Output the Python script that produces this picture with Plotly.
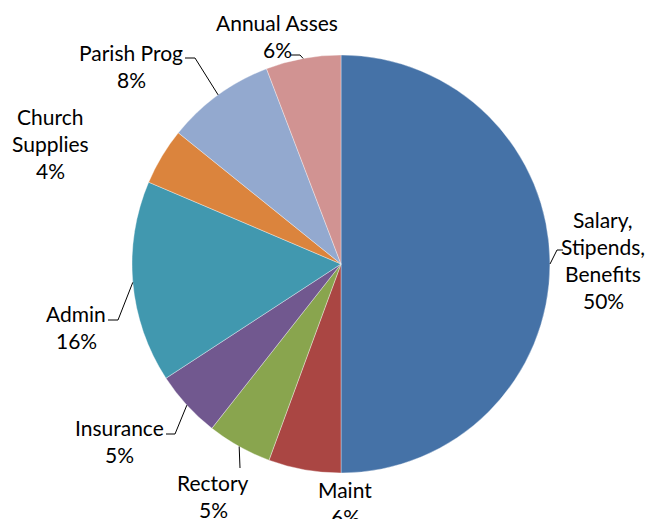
import math
import plotly.graph_objects as go

# ---- data ----
labels = ["Salary, Stipends, Benefits", "Maint", "Rectory", "Insurance",
          "Admin", "Church Supplies", "Parish Prog", "Annual Asses"]
label_lines = [["Salary,", "Stipends,", "Benefits"], ["Maint"], ["Rectory"], ["Insurance"],
               ["Admin"], ["Church", "Supplies"], ["Parish Prog"], ["Annual Asses"]]
values = [50.0, 5.6, 5.0, 5.2, 15.6, 4.4, 8.4, 5.8]
colors = ["#4572A7", "#AA4643", "#89A54E", "#71588F",
          "#4198AF", "#DB843D", "#93A9CF", "#D19392"]

# ---- layout constants (pixels, page coordinates) ----
OFF = 8                      # page body margin
W, H = 654 - OFF, 519 - OFF  # figure size so that the page fits the window
CX, CY, R = 341, 264, 209
FONT = "Lato"
FS = 21
LINE_H = 27

# label block centres (px) and leader start/elbow points (px)
label_pos = [(603, 260), (345, 503), (213, 496), (119, 441),
             (76, 327), (50, 143), (131, 66), (277, 36)]
leaders = [[(563, 250), (557, 250)], None, [(240, 468)], [(166, 434), (175, 434)],
           [(108, 320), (118, 320)], None, [(185, 58), (195, 58)], [(291, 55), (300, 55)]]

def px(x):
    return (x - OFF) / W

def py(y):
    return 1 - (y - OFF) / H

fig = go.Figure(go.Pie(
    labels=labels, values=values, sort=False, direction="clockwise", rotation=0,
    marker=dict(colors=colors, line=dict(color="rgba(255,255,255,0.6)", width=0.6)),
    textinfo="none", hoverinfo="label+percent", showlegend=False,
    domain=dict(x=[px(CX - R), px(CX + R)], y=[py(CY + R), py(CY - R)]),
))

total = sum(values)
annotations = []
shapes = []
cum = 0.0
for i, v in enumerate(values):
    mid = (cum + v / 2) / total * 2 * math.pi
    cum += v
    rim = (CX + R * math.sin(mid), CY - R * math.cos(mid))
    pct = round(v / total * 100)
    lines = label_lines[i] + [f"{pct}%"]
    lx, ly = label_pos[i]
    n = len(lines)
    for k, t in enumerate(lines):
        yy = ly + (k - (n - 1) / 2) * LINE_H
        annotations.append(dict(
            x=px(lx), y=py(yy), xref="paper", yref="paper", text=t, showarrow=False,
            xanchor="center", yanchor="middle",
            font=dict(family=FONT, size=FS, color="#000000"),
        ))
    if leaders[i]:
        pts = leaders[i] + [rim]
        path = "M " + " L ".join(f"{px(a)},{py(b)}" for a, b in pts)
        shapes.append(dict(type="path", xref="paper", yref="paper", path=path,
                           line=dict(color="#000000", width=1)))

fig.update_layout(
    width=W, height=H, margin=dict(l=0, r=0, t=0, b=0),
    paper_bgcolor="white", plot_bgcolor="white",
    annotations=annotations, shapes=shapes,
)

fig.write_html("out.html")
